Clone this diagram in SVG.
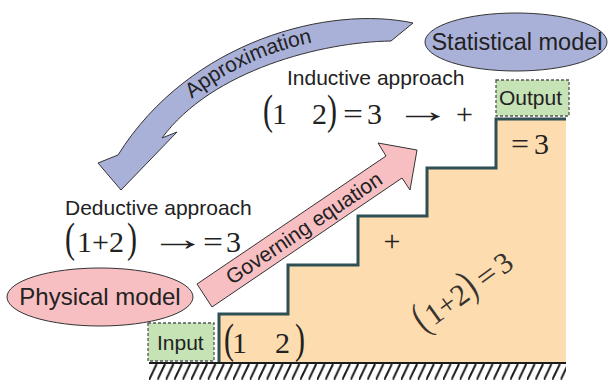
<svg xmlns="http://www.w3.org/2000/svg" width="610" height="381" viewBox="0 0 610 381">
<style>
.s{font-family:"Liberation Sans",Arial,sans-serif;fill:#222}
.m{font-family:"Liberation Serif","Times New Roman",serif;fill:#222;font-size:30px}
.box{fill:#c6e3b6;stroke:#555;stroke-width:1.3;stroke-dasharray:3 2}
.ol{stroke:#333;stroke-width:1}
</style>
<defs>
<pattern id="hatch" patternUnits="userSpaceOnUse" x="149" y="364" width="8.4" height="16">
<line x1="0" y1="16" x2="7.6" y2="0" stroke="#1a1a1a" stroke-width="2"/>
</pattern>
</defs>
<rect width="610" height="381" fill="#fff"/>

<g id="staircase">
<polygon points="219,363 219,314 288,314 288,265 358,265 358,216 427,216 427,168 496,168 496,119 566,119 566,363" fill="#fddcb0"/>
<path d="M219,363 V314 H288 V265 H358 V216 H427 V168 H496 V119 H566" fill="none" stroke="#2e4f54" stroke-width="3"/>
<rect x="149" y="364" width="417" height="16" fill="url(#hatch)"/>
<line x1="149" y1="363" x2="566" y2="363" stroke="#1a1a1a" stroke-width="2"/>
</g>

<g id="connectors">
<g id="approximation-arrow">
<path class="ol" fill="#aab1d8" d="M413,23 C330,5 190,40 118,155 L98,163 L121,190 L177,132 L162,138 C212,70 322,42 391,41 Z"/>
<path id="apx" d="M146,150 C205,58 327,27 402,38" fill="none"/>
<text class="s" font-size="21"><textPath href="#apx" startOffset="69">Approximation</textPath></text>
</g>
<g id="governing-arrow">
<polygon class="ol" fill="#f8bfc3" points="197,284 386,156 378,143 417,150 410,190 402,178 212,307"/>
<text class="s" font-size="21" text-anchor="middle" transform="translate(308,234) rotate(-34)">Governing equation</text>
</g>
</g>

<g id="node-physical">
<ellipse class="ol" cx="100" cy="297" rx="93" ry="29" fill="#f8bfc3"/>
<text class="s" x="100" y="305" font-size="24" text-anchor="middle">Physical model</text>
</g>

<g id="node-statistical">
<ellipse class="ol" cx="516" cy="42" rx="91" ry="29" fill="#aab1d8"/>
<text class="s" x="517" y="50" font-size="23.5" text-anchor="middle">Statistical model</text>
</g>

<g id="node-input">
<rect class="box" x="148" y="323" width="66" height="38"/>
<text class="s" x="157" y="350" font-size="21">Input</text>
</g>

<g id="node-output">
<rect class="box" x="496" y="80" width="73" height="36"/>
<text class="s" x="499" y="105" font-size="21">Output</text>
</g>

<g id="labels">
<text class="s" x="65" y="215" font-size="21">Deductive approach</text>
<text class="s" x="287" y="85" font-size="21">Inductive approach</text>

<text class="m" transform="translate(65,252) scale(1,1.43)">(</text>
<text class="m" x="77" y="252">1+2</text>
<text class="m" transform="translate(127,252) scale(1,1.43)">)</text>
<text class="m" transform="translate(149,250) scale(1.9,1.1)">→</text>
<text class="m" x="203" y="252" textLength="20" lengthAdjust="spacingAndGlyphs">=</text>
<text class="m" x="226" y="252">3</text>

<text class="m" transform="translate(263,123.5) scale(1,1.43)">(</text>
<text class="m" x="272" y="123.5">1</text>
<text class="m" x="312" y="123.5">2</text>
<text class="m" transform="translate(327,123.5) scale(1,1.43)">)</text>
<text class="m" x="343" y="123.5" textLength="20" lengthAdjust="spacingAndGlyphs">=</text>
<text class="m" x="367" y="123.5">3</text>
<text class="m" transform="translate(394,121.5) scale(1.9,1.1)">→</text>
<text class="m" x="456" y="123.5">+</text>

<text class="m" x="511" y="154" font-size="28" textLength="18" lengthAdjust="spacingAndGlyphs">=</text>
<text class="m" x="534" y="154" font-size="28">3</text>

<text class="m" x="392" y="251" text-anchor="middle">+</text>

<text class="m" transform="translate(224,353) scale(1,1.43)">(</text>
<text class="m" x="232" y="353">1</text>
<text class="m" x="275" y="353">2</text>
<text class="m" transform="translate(295,353) scale(1,1.43)">)</text>

<g transform="translate(424,333) rotate(-36)" opacity="0.9">
<text class="m" font-size="30" transform="scale(1,1.43)">(</text>
<text class="m" x="12" y="0" font-size="30">1+2</text>
<text class="m" font-size="30" transform="translate(59,0) scale(1,1.43)">)</text>
<text class="m" x="75" y="0" font-size="30" textLength="19" lengthAdjust="spacingAndGlyphs">=</text>
<text class="m" x="98" y="0" font-size="30">3</text>
</g>
</g>
</svg>
